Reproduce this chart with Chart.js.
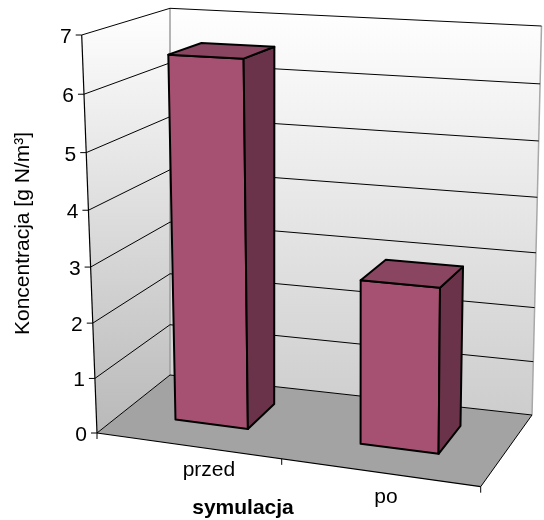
<!DOCTYPE html>
<html>
<head>
<meta charset="utf-8">
<title>Koncentracja</title>
<script src="https://cdn.jsdelivr.net/npm/chart.js@4.4.0/dist/chart.umd.min.js"></script>
<style>
  html, body { margin: 0; padding: 0; background: #fff; }
  #chart { display: block; }
</style>
</head>
<body>
<canvas id="chart" width="544" height="520"></canvas>
<script>
const categories = ['przed', 'po'];
const values = [6.55, 2.9];
const yTicks = [0, 1, 2, 3, 4, 5, 6, 7];
const yTitle = 'Koncentracja [g N/m³]';
const xTitle = 'symulacja';

// corners of the 3D plot box on screen (Front/Back, Left/Right, Bottom/Top)
const box = {
    FLB: [97, 433], FLT: [81.7, 35],
    FRB: [480.7, 486.7], FRT: [485, 54.7],
    BLB: [170, 375], BLT: [170, 8.3],
    BRB: [532, 415], BRT: [541.5, 26]
};
const PERSP_X = 1.0773;   // foreshortening along the category axis
const PERSP_Y = 1.049;    // foreshortening along the value axis
const BAR_FRONT = 0.35, BAR_BACK = 0.75;  // bar depth inside the box
const FONT = '"Liberation Sans", Arial, sans-serif';

function lerp(a, b, t) {
    return [a[0] + (b[0] - a[0]) * t, a[1] + (b[1] - a[1]) * t];
}

function persp(f, c) {
    return f / (f + c * (1 - f));
}

// s: 0..1 across categories, t: 0..1 up the value axis, w: 0..1 into depth
function project(s, t, w) {
    const su = persp(s, PERSP_X), tv = persp(t, PERSP_Y);
    const bl = lerp(box.FLB, box.BLB, w), tl = lerp(box.FLT, box.BLT, w);
    const br = lerp(box.FRB, box.BRB, w), tr = lerp(box.FRT, box.BRT, w);
    return lerp(lerp(bl, tl, tv), lerp(br, tr, tv), su);
}

function poly(ctx, pts, fill, stroke, lw) {
    ctx.beginPath();
    pts.forEach((p, i) => i ? ctx.lineTo(p[0], p[1]) : ctx.moveTo(p[0], p[1]));
    ctx.closePath();
    if (fill) { ctx.fillStyle = fill; ctx.fill(); }
    if (stroke) { ctx.strokeStyle = stroke; ctx.lineWidth = lw; ctx.stroke(); }
}

function line(ctx, a, b, color, lw) {
    ctx.beginPath();
    ctx.moveTo(a[0], a[1]);
    ctx.lineTo(b[0], b[1]);
    ctx.strokeStyle = color;
    ctx.lineWidth = lw;
    ctx.stroke();
}

const scene3d = {
    id: 'scene3d',
    beforeDatasetsDraw(chart) {
        const ctx = chart.ctx;
        const xs = chart.scales.x, ys = chart.scales.y;
        const sx = px => (px - xs.left) / (xs.right - xs.left);
        const ty = px => (ys.bottom - px) / (ys.bottom - ys.top);

        ctx.save();
        ctx.lineJoin = 'round';

        // back wall
        let g = ctx.createLinearGradient(0, box.BLT[1], 0, box.BRB[1]);
        g.addColorStop(0, '#ffffff');
        g.addColorStop(1, '#cdcdcd');
        poly(ctx, [project(0, 0, 1), project(1, 0, 1), project(1, 1, 1), project(0, 1, 1)], g);

        // left wall
        g = ctx.createLinearGradient(0, box.BLT[1], 0, box.FLB[1]);
        g.addColorStop(0, '#ffffff');
        g.addColorStop(1, '#b9b9b9');
        poly(ctx, [project(0, 0, 0), project(0, 0, 1), project(0, 1, 1), project(0, 1, 0)], g);

        // floor
        poly(ctx, [project(0, 0, 0), project(1, 0, 0), project(1, 0, 1), project(0, 0, 1)], '#a3a3a3');

        // wall edges
        line(ctx, project(0, 0, 1), project(0, 1, 1), '#9c9c9c', 1.5);
        line(ctx, project(1, 0, 1), project(1, 1, 1), '#a8a8a8', 1.5);

        // gridlines on left and back wall
        yTicks.forEach(v => {
            const t = ty(ys.getPixelForValue(v));
            line(ctx, project(0, t, 0), project(0, t, 1), '#000', 1);
            line(ctx, project(0, t, 1), project(1, t, 1), '#000', 1);
        });

        // axes
        line(ctx, project(0, 0, 0), project(0, 1, 0), '#000', 1.2);
        line(ctx, project(0, 0, 0), project(1, 0, 0), '#000', 1.2);
        line(ctx, project(1, 0, 0), project(1, 0, 1), '#000', 1);

        // value ticks + labels
        ctx.fillStyle = '#000';
        ctx.font = '21px ' + FONT;
        ctx.textAlign = 'right';
        ctx.textBaseline = 'alphabetic';
        yTicks.forEach(v => {
            const p = project(0, ty(ys.getPixelForValue(v)), 0);
            line(ctx, [p[0] - 6, p[1]], p, '#000', 1);
            ctx.fillText(String(v), p[0] - 10, p[1] + 8);
        });

        // category ticks
        for (let k = 0; k <= categories.length; k++) {
            const p = project(k / categories.length, 0, 0);
            line(ctx, p, [p[0], p[1] + 6], '#000', 1);
        }

        // bars
        const meta = chart.getDatasetMeta(0);
        meta.data.forEach(bar => {
            const s0 = sx(bar.x - bar.width / 2), s1 = sx(bar.x + bar.width / 2);
            const t = ty(bar.y);
            const a = BAR_FRONT, b = BAR_BACK;
            poly(ctx, [project(s0, 0, a), project(s1, 0, a), project(s1, t, a), project(s0, t, a)],
                '#a75172', '#000', 2);
            poly(ctx, [project(s1, 0, a), project(s1, 0, b), project(s1, t, b), project(s1, t, a)],
                '#6b3349', '#000', 2);
            poly(ctx, [project(s0, t, a), project(s1, t, a), project(s1, t, b), project(s0, t, b)],
                '#8a4561', '#000', 2);
        });

        // category labels
        ctx.fillStyle = '#000';
        ctx.textAlign = 'left';
        categories.forEach((c, i) => {
            const p = project(sx(xs.getPixelForValue(i)), 0, 0);
            ctx.fillText(c, p[0] - 5, p[1] + 30);
        });

        // axis titles
        ctx.font = 'bold 21px ' + FONT;
        ctx.textAlign = 'center';
        ctx.fillText(xTitle, 243, 514);

        ctx.font = '21px ' + FONT;
        ctx.translate(28.5, 233.5);
        ctx.rotate(-Math.PI / 2);
        ctx.fillText(yTitle, 0, 0);

        ctx.restore();
        return false;
    }
};

new Chart(document.getElementById('chart'), {
    type: 'bar',
    data: {
        labels: categories,
        datasets: [{
            label: yTitle,
            data: values,
            categoryPercentage: 0.4,
            barPercentage: 1
        }]
    },
    options: {
        responsive: false,
        animation: false,
        layout: { padding: 0 },
        plugins: {
            legend: { display: false },
            tooltip: { enabled: false }
        },
        scales: {
            x: { display: false },
            y: { display: false, min: 0, max: 7, ticks: { stepSize: 1 } }
        }
    },
    plugins: [scene3d]
});
</script>
</body>
</html>
